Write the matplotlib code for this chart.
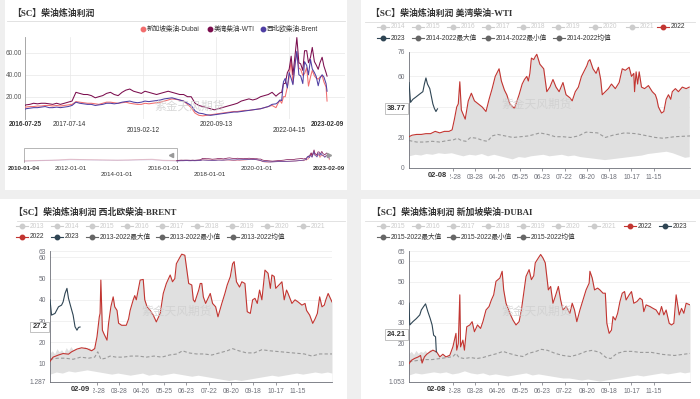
import numpy as np
import pandas as pd
import matplotlib
matplotlib.use('Agg')
import matplotlib.pyplot as plt
from matplotlib.patches import Rectangle
from matplotlib.lines import Line2D

plt.rcParams['font.family'] = ['Liberation Sans', 'Noto Sans CJK SC', 'DejaVu Sans']
TITLE_FONT = ['Liberation Serif', 'Noto Sans CJK SC', 'DejaVu Sans']

# ---------------- top-left: diesel crack, three regions ----------------
# dates: 2016-07-25, monthly to 2021-12, half-monthly 2022-01..2023-02, 2023-02-09
tl_dates = (pd.to_datetime(['2016-07-25'])
            .append(pd.date_range('2016-08-01', '2021-12-01', freq='MS'))
            .append(pd.date_range('2022-01-01', '2023-02-01', freq='SMS'))
            .append(pd.to_datetime(['2023-02-09'])))

wti_tl = [12, 12.5, 13, 14, 13.5, 14,
          14, 13.5, 13, 14, 13, 14, 15, 16, 24, 23, 22, 22,
          21, 19, 20, 21, 23, 24, 22, 21, 24, 26, 27, 25,
          24, 23, 25, 24, 23, 22, 23, 24, 25, 24, 23, 22,
          22, 20, 20, 14, 12, 11, 10, 9, 8, 9, 10, 11,
          12, 13, 14, 16, 17, 18, 17, 18, 20, 21, 22, 24,
          20.5, 22, 23.5, 24, 32, 32, 42, 45, 57, 40, 58, 74,
          51, 50, 44, 62, 62, 51, 56, 65, 52, 49, 45, 51,
          56, 48, 42, 38.8]
brent_tl = [8.5, 9, 9.5, 10, 10, 10.5,
            11, 10, 10, 10.5, 10, 10.5, 11, 12, 15, 14, 13.5, 13,
            13, 12, 12.5, 13, 14, 14, 13.5, 14, 15, 15.5, 16, 15,
            14.5, 15, 16, 15.5, 16, 16.5, 17, 18, 18.5, 19, 18, 17,
            16, 14, 12, 7, 5, 4.5, 3.5, 3, 3.5, 4, 4.5, 5,
            5.5, 6, 6, 6.5, 7, 7.5, 8, 8.5, 9, 10, 11, 13,
            13.5, 14.7, 17, 16.5, 33.6, 36.7, 28, 42, 36.7, 31, 50, 61.5,
            40, 39, 32, 52, 48.5, 40, 54, 45.4, 42, 38.5, 30, 37,
            40, 38, 32, 25]
dubai_tl = [10, 10.5, 11, 11, 11.5, 11.5,
            12, 12, 11.5, 12, 11.5, 12, 12.5, 13, 15.5, 15, 14.5, 14,
            14, 13.5, 13, 14, 15, 15, 14.5, 14, 14.5, 15, 14, 13.5,
            13, 13, 14, 13.5, 14, 14.5, 15, 16, 17, 18, 17.5, 17,
            16, 13, 10, 5, 3, 2.5, 3, 3.5, 4, 4.5, 5, 5.5,
            6, 6.5, 6.5, 7, 7.5, 7.5, 8, 8.5, 9, 10, 11, 12,
            10, 13.5, 16.6, 14, 20, 20, 28.9, 37.9, 53, 32, 50, 60,
            46, 45, 39.5, 41, 46.5, 29.7, 38, 44, 39, 37, 36, 38,
            39.5, 33.5, 28.9, 16]

# navigator history before the main window
nav_dates = pd.to_datetime(['2010-01-04', '2010-07-01', '2011-01-01', '2011-07-01',
                            '2012-01-01', '2012-07-01', '2013-01-01', '2013-07-01',
                            '2014-01-01', '2014-07-01', '2015-01-01', '2015-07-01',
                            '2016-01-01', '2016-07-25'])
wti_early = [10, 12, 14, 16, 20, 18, 17, 16, 15, 16, 18, 20, 14, 12]
brent_early = [7, 9, 11, 12, 15, 14, 13, 12, 11, 12, 14, 15, 10, 8.5]
dubai_early = [8, 10, 12, 14, 17, 16, 15, 14, 13, 14, 16, 17, 12, 10]

# ---------------- seasonal panels: (day of year, value) ----------------
wti_2022 = [(0, 20.5), (4, 21.5), (10, 22), (16, 22), (22, 22.5), (28, 22.5), (34, 24), (40, 23),
            (46, 24), (52, 24), (56, 25), (59, 32), (62, 40), (64, 42), (66, 56.5), (68, 38),
            (73, 32), (77, 44), (81, 49), (85, 44), (90, 42), (95, 40), (100, 37), (104, 45),
            (108, 52), (110, 56), (112, 60), (117, 65), (120, 57), (124, 51), (127, 48), (131, 42),
            (137, 39), (141, 45), (143, 48), (147, 55), (150, 58), (153, 60), (155, 57), (157, 62),
            (159, 72), (162, 71), (164, 73), (166, 74.5), (170, 68), (175, 65), (179, 50), (183, 53),
            (187, 58), (191, 53), (195, 50), (200, 56), (204, 48), (209, 46), (212, 44), (216, 50),
            (220, 53), (224, 60), (228, 64), (231, 67), (233, 70), (235, 71), (239, 65), (243, 62),
            (246, 66), (249, 58), (251, 48), (255, 50), (259, 52), (263, 55), (268, 52), (273, 56),
            (277, 65), (281, 64), (286, 66), (289, 60), (292, 62), (293, 50), (295, 63), (297, 55),
            (299, 63), (302, 53), (306, 52), (311, 54), (316, 50), (320, 48), (322, 45), (324, 40),
            (328, 36), (331, 37), (334, 45), (337, 48), (340, 45), (342, 50), (346, 52), (350, 50),
            (355, 53), (360, 52), (364, 53)]
wti_2023 = [(0, 56), (2, 43), (5, 45), (9, 46.5), (14, 48.5), (18, 50), (20, 55), (22, 59),
            (24, 55), (27, 52), (29, 47), (31, 42), (33, 39), (35, 37), (37, 38.77)]
wti_min = [(0, 8), (8, 9), (15, 8.5), (22, 9.5), (30, 9), (38, 10), (46, 9.5), (55, 10), (62, 9),
           (70, 8), (78, 9), (86, 8.5), (94, 9.5), (102, 8), (110, 9), (118, 8), (126, 7), (134, 6),
           (142, 7.5), (150, 7), (158, 8), (166, 8.5), (174, 9), (182, 8), (190, 8.5), (198, 9),
           (206, 8), (214, 8.5), (222, 7.5), (230, 7), (238, 6.5), (246, 6), (254, 5.5), (262, 6),
           (270, 6.5), (278, 7), (286, 7.5), (294, 8), (302, 8.5), (310, 9.5), (318, 10), (326, 10.5),
           (334, 11), (342, 10), (350, 8.5), (358, 7), (365, 7.5)]
wti_avg = [(0, 18), (10, 17), (20, 17), (30, 17.5), (40, 17), (50, 18), (58, 18.5), (63, 19.5),
           (68, 18), (74, 17.5), (80, 20), (88, 19.5), (96, 18), (102, 17.5), (108, 21), (115, 22),
           (125, 21), (135, 20), (145, 20.5), (155, 21), (163, 22), (170, 23), (180, 22), (190, 20.5),
           (200, 20.5), (210, 20), (220, 21), (230, 23.5), (245, 23), (255, 20), (265, 21.5),
           (280, 23), (295, 22.5), (310, 21), (320, 20), (330, 19.5), (345, 20.5), (365, 21)]

brent_2022 = [(0, 11), (4, 13), (11, 14), (17, 14.7), (24, 14.4), (28, 15.5), (35, 16.8), (41, 17.4),
              (48, 17), (54, 16), (58, 17), (61, 22.6), (64, 32), (65, 33.6), (66, 49.3), (68, 25.7),
              (70, 24), (74, 21), (76, 28.9), (79, 36.7), (82, 41.4), (84, 36.7), (87, 35), (89, 29),
              (93, 28), (99, 28), (102, 31), (104, 35), (108, 40), (110, 42), (112, 40), (117, 49.3),
              (121, 49.6), (123, 40), (126, 36.7), (130, 35), (134, 32.8), (138, 29.6), (143, 33.6),
              (147, 43), (151, 47.7), (156, 51.7), (159, 48.5), (162, 50), (164, 57), (169, 60.3),
              (171, 61.5), (175, 61), (180, 47.7), (184, 47), (186, 40), (188, 39), (193, 44.6),
              (195, 47.7), (197, 47.7), (199, 41.4), (202, 38.3), (208, 43), (211, 38.3), (215, 36.7),
              (218, 32), (223, 38.3), (227, 43), (230, 47), (234, 50.9), (237, 57), (239, 58),
              (242, 48.5), (246, 46), (249, 48.5), (253, 47.7), (256, 34.4), (260, 33.6), (263, 40),
              (266, 40.7), (269, 38.3), (272, 44.6), (275, 40), (279, 54), (283, 52.5), (286, 45.4),
              (288, 51.7), (291, 51), (293, 45.4), (299, 47.7), (301, 48.5), (304, 40), (307, 44.6),
              (309, 43), (314, 38.3), (318, 40), (322, 39), (327, 37.5), (331, 38.3), (333, 35),
              (337, 32.8), (341, 28.9), (344, 31), (347, 33.6), (350, 41.4), (353, 36.7), (356, 37.5),
              (358, 40), (361, 43), (366, 39)]
brent_2023 = [(0, 40), (2, 32.8), (6.5, 33.6), (11, 36.7), (15, 37.5), (17, 39), (19.5, 43),
              (22, 45.4), (24, 40.7), (27, 36.7), (30, 32.8), (32.5, 27.3), (35, 25.7), (37, 27),
              (39, 27.2)]
brent_max = [(0, 15), (3, 16), (6, 14.5), (9, 17), (12, 15.5), (15, 16.5), (18, 15), (21, 17.5),
             (24, 16), (27, 18), (30, 16.5), (33, 17), (36, 15.5), (39, 17.5), (42, 16.5), (45, 18),
             (48, 17), (51, 17.5), (54, 16.5), (57, 17.5), (60, 18)]
brent_min = [(0, 5), (8, 6), (16, 5.5), (24, 6.5), (32, 6), (40, 6.5), (48, 7), (56, 6.5), (64, 6),
             (72, 5.5), (80, 5), (88, 5.5), (96, 5), (104, 4.5), (112, 5), (120, 5.5), (128, 4.5),
             (136, 5), (144, 4.5), (152, 5), (160, 5.5), (168, 5), (176, 4.5), (184, 4), (192, 4.5),
             (200, 4), (208, 3.5), (216, 3), (224, 2.5), (232, 2), (240, 2.5), (248, 2), (256, 2.5),
             (264, 3), (272, 3.5), (280, 4), (288, 4.5), (296, 4), (304, 4.5), (312, 5), (320, 5.5),
             (328, 5), (336, 5.5), (344, 6), (352, 5.5), (360, 6), (366, 5.5)]
brent_avg = [(0, 12), (10, 12.5), (20, 12.5), (30, 12), (40, 13), (50, 12.5), (58, 13), (62, 15.5),
             (66, 12), (72, 12.5), (78, 13.5), (86, 13), (95, 13), (105, 13.5), (115, 13.5),
             (125, 13), (135, 13.5), (145, 13), (155, 14), (165, 14.5), (172, 16), (180, 15),
             (190, 14.5), (200, 14.5), (210, 14), (220, 15), (230, 16), (237, 17), (245, 16),
             (255, 15), (265, 15), (275, 16.5), (285, 16), (300, 15.5), (315, 15), (330, 14.5),
             (340, 13.5), (350, 14.5), (366, 14.5)]

dubai_2022 = [(0, 10), (3, 11.6), (7, 12.5), (12, 13.3), (15, 14), (17, 10.3), (20, 13.3), (23, 14.6),
              (27, 15.7), (31, 16.6), (36, 15.7), (40, 13.3), (44, 14.6), (48, 13.3), (53, 14.1),
              (57, 18.2), (61, 24.8), (62, 16.6), (64, 19.8), (66, 43.6), (67, 18.2), (70, 21.5),
              (72, 16.6), (75, 28), (79, 28.9), (82, 30.5), (85, 25.6), (89, 28.9), (93, 27.2),
              (96, 30.5), (100, 36.2), (104, 37.9), (107, 41.1), (110, 43.6), (113, 50.2), (118, 51.8),
              (121, 55.1), (123, 46), (126, 39.5), (131, 34.6), (135, 31.3), (139, 28.9), (143, 30.5),
              (146, 36.2), (149, 44.4), (152, 52.6), (156, 55.9), (159, 51), (162, 52.9), (164, 59.2),
              (168, 61.6), (171, 63.3), (174, 61.6), (177, 59.2), (181, 46), (184, 47.7), (187, 39.5),
              (190, 42.8), (194, 47.7), (197, 41.1), (200, 36.2), (204, 37.9), (209, 34.6), (212, 39.5),
              (215, 36.2), (218, 30.5), (222, 36.2), (226, 41.1), (230, 46), (234, 49.3), (235, 55.1),
              (238, 51.8), (241, 46), (245, 46.9), (248, 46), (252, 44.4), (255, 44.4), (257, 29.7),
              (260, 24.8), (263, 26.4), (265, 33), (268, 31.3), (271, 34.6), (274, 40.3), (277, 44.4),
              (280, 45.2), (282, 41.1), (286, 43.6), (289, 45.2), (292, 39.5), (296, 40.3), (300, 42),
              (303, 41.1), (305, 35.4), (308, 38.7), (313, 37.9), (317, 37), (321, 36.2), (325, 33.8),
              (328, 37.9), (331, 33.8), (334, 36.2), (338, 29.7), (341, 28.9), (344, 29.7), (347, 43.6),
              (351, 33.8), (354, 37), (357, 34.6), (360, 39.5), (365, 38.7)]
dubai_2023 = [(0, 39.5), (1, 28.9), (5, 30.5), (9.5, 32), (14, 33.8), (16, 36.2), (19, 37.9),
              (21.5, 39.2), (24.5, 35.4), (27.5, 32.1), (30, 28.9), (32, 23.9), (34.5, 23.1), (35.5, 15.7)]
dubai_max = [(0, 15), (3, 16), (6, 14.5), (9, 16.5), (12, 15), (15, 16), (18, 15.5), (21, 16.5),
             (24, 15), (27, 17), (30, 16), (33, 16.5), (36, 15), (39, 14.5)]
dubai_min = [(0, 4.5), (8, 5.5), (16, 5), (24, 5.5), (32, 6), (40, 5.5), (48, 6), (56, 5), (64, 5.5),
             (72, 6.5), (80, 5.5), (88, 5), (96, 5.5), (104, 4.5), (112, 5), (120, 4.5), (128, 4),
             (136, 4.5), (144, 5), (152, 5.5), (160, 4.5), (168, 5), (176, 4.5), (184, 4), (192, 3.5),
             (200, 3), (208, 3), (216, 2.5), (224, 2), (232, 2.5), (240, 2), (248, 1.5), (256, 2),
             (264, 2.5), (272, 3), (280, 3.5), (288, 4), (296, 4.5), (304, 4), (312, 4.5), (320, 5),
             (328, 5.5), (336, 5), (344, 5.5), (352, 6), (358, 5.5), (365, 6)]
dubai_avg = [(0, 11), (10, 11.5), (20, 12), (30, 12), (40, 12.5), (50, 13), (57, 13.5), (61, 15),
             (65, 13), (72, 12.5), (80, 13), (88, 12.5), (96, 13), (105, 14), (115, 15), (122, 16),
             (130, 15), (140, 14), (148, 13.5), (155, 15), (165, 16), (172, 17), (180, 16.5),
             (190, 15), (200, 14), (210, 13.5), (220, 14.5), (230, 16), (238, 16.5), (248, 15.5),
             (256, 13), (262, 12.5), (270, 15), (280, 16), (290, 16), (300, 15.5), (315, 15.5),
             (330, 14.5), (345, 14), (365, 15)]

month_labels = ['02-28', '03-28', '04-26', '05-25', '06-23', '07-22', '08-20', '09-18', '10-17', '11-15']

RED = '#c23531'
DARK = '#2f4554'
GRAY = '#e0e0e0'
AXC = '#6e7079'

W, H = 700, 399
fig = plt.figure(figsize=(7, 3.99), dpi=100)
fig.patch.set_facecolor('#efefef')


def fx(x):
    return x / W


def fy(y):
    return 1 - y / H


def px_axes(l, t, r, b):
    ax = fig.add_axes([fx(l), fy(b), (r - l) / W, (b - t) / H])
    ax.patch.set_alpha(0)
    return ax


# white panels
for (l, t, r, b) in [(5, 0, 347, 190), (361, 0, 700, 190), (0, 199, 347, 399), (361, 199, 700, 399)]:
    fig.add_artist(Rectangle((fx(l), fy(b)), (r - l) / W, (b - t) / H, transform=fig.transFigure,
                             facecolor='white', edgecolor='none', zorder=-10))


def header(x, y, text, l, r, ly):
    fig.text(fx(x), fy(y), text, fontsize=6.4, fontweight='bold', color='#333', va='center',
             ha='left', family=TITLE_FONT)
    fig.add_artist(Line2D([fx(l), fx(r)], [fy(ly), fy(ly)], color='#dddddd', lw=0.6))


def leg_item(x, y, label, color, text_color, line=True):
    if line:
        fig.add_artist(Line2D([fx(x - 6), fx(x + 6)], [fy(y), fy(y)], color=color, lw=0.8))
    fig.add_artist(Line2D([fx(x)], [fy(y)], marker='o', ms=3.2, color=color, mec=color, mfc=color))
    fig.text(fx(x + (8 if line else 4)), fy(y), label, fontsize=4.8, color=text_color,
             va='center', ha='left')


def watermark(x, y):
    fig.text(fx(x), fy(y), '紫金天风期货', fontsize=8.5, color='#cfcfcf', alpha=0.8,
             ha='center', va='center', zorder=5)


# ---------------- top-left panel ----------------
header(12, 13, '【SC】柴油炼油利润', 7, 345, 21)
leg_item(143, 29, '新加坡柴油-Dubai', '#f26d6d', '#333', line=False)
leg_item(210, 29, '美湾柴油-WTI', '#7b0d4e', '#333', line=False)
leg_item(263, 29, '西北欧柴油-Brent', '#4f3fa3', '#333', line=False)

ax = px_axes(25, 36.7, 345, 118.6)
ax.set_xlim(pd.Timestamp('2016-07-25'), pd.Timestamp('2023-07-01'))
ax.set_ylim(0, 74.8)
ax.set_yticks([20, 40, 60])
ax.set_yticklabels(['20.00', '40.00', '60.00'])
ax.yaxis.grid(True, color='#e8e8e8', lw=0.5)
ax.set_axisbelow(True)
grid_dates = ['2017-07-14', '2019-02-12', '2020-09-13', '2022-04-15']
for d in grid_dates:
    ax.axvline(pd.Timestamp(d), color='#e8e8e8', lw=0.5, zorder=0)
ax.set_xticks([])
ax.tick_params(axis='y', length=0, labelsize=4.7, labelcolor='#555', pad=2)
for s in ['top', 'right', 'bottom']:
    ax.spines[s].set_visible(False)
ax.spines['left'].set_color('#999')
ax.spines['left'].set_linewidth(0.6)
ax.plot(tl_dates, dubai_tl, color='#f26d6d', lw=0.75, zorder=3)
ax.plot(tl_dates, wti_tl, color='#7b0d4e', lw=0.75, zorder=3)
ax.plot(tl_dates, brent_tl, color='#4f3fa3', lw=0.75, zorder=3)
xt = ax.get_xaxis_transform()
tl_ticks = [('2016-07-25', -0.068, True), ('2017-07-14', -0.068, False), ('2019-02-12', -0.15, False),
            ('2020-09-13', -0.068, False), ('2022-04-15', -0.15, False), ('2023-02-09', -0.068, True)]
for d, yy, bold in tl_ticks:
    ax.text(pd.Timestamp(d), yy, d, transform=xt, ha='center', va='center', fontsize=4.7,
            color='#333', fontweight='bold' if bold else 'normal', clip_on=False)
watermark(190, 107)

# navigator
nav = px_axes(24, 148, 330, 163)
nav.set_xlim(pd.Timestamp('2010-01-04'), pd.Timestamp('2023-02-20'))
nav.set_ylim(-3, 85)
nav.axis('off')
nav.plot(nav_dates, dubai_early, color='#f26d6d', lw=0.5, alpha=0.3)
nav.plot(nav_dates, wti_early, color='#7b0d4e', lw=0.5, alpha=0.2)
nav.plot(nav_dates, brent_early, color='#4f3fa3', lw=0.5, alpha=0.2)
nav.plot(tl_dates, dubai_tl, color='#f26d6d', lw=0.5)
nav.plot(tl_dates, wti_tl, color='#7b0d4e', lw=0.5)
nav.plot(tl_dates, brent_tl, color='#4f3fa3', lw=0.5)
nav.axvspan(pd.Timestamp('2010-01-04'), pd.Timestamp('2016-07-25'), fill=False, ec='#aaaaaa', lw=0.6)
nav.plot([pd.Timestamp('2016-05-01')], [42], marker='<', ms=3, color='#999', clip_on=False)
nav.plot([pd.Timestamp('2023-02-09')], [42], marker='>', ms=3, color='#999', clip_on=False)
nt = nav.get_xaxis_transform()
nav_ticks = [('2010-01-04', -0.35, True), ('2012-01-01', -0.35, False), ('2014-01-01', -0.75, False),
             ('2016-01-01', -0.35, False), ('2018-01-01', -0.75, False), ('2020-01-01', -0.35, False),
             ('2023-02-09', -0.35, True)]
for d, yy, bold in nav_ticks:
    nav.text(pd.Timestamp(d), yy, d, transform=nt, ha='center', va='center', fontsize=4.5,
             color='#333', fontweight='bold' if bold else 'normal', clip_on=False)


# ---------------- seasonal panels ----------------
def seasonal(box, xlim, ylim, yticks, ylabels, xticks, s22, s23, smin, savg, smax,
             last_txt, last_val, date_txt):
    l, t, r, b = box
    ax = px_axes(l, t, r, b)
    ax.set_xlim(*xlim)
    ax.set_ylim(*ylim)
    d, v = zip(*s22)
    ax.fill_between(d, ylim[0], v, color=GRAY, lw=0, zorder=1)
    if smax:
        dm, vm = zip(*smax)
        ax.fill_between(dm, ylim[0], vm, color=GRAY, lw=0, zorder=1)
    dn, vn = zip(*smin)
    ax.fill_between(dn, ylim[0], vn, color='white', lw=0, zorder=1.5)
    da, va = zip(*savg)
    ax.plot(da, va, color='#9a9a9a', lw=0.8, ls=(0, (3, 2)), zorder=2)
    ax.plot(d, v, color=RED, lw=0.8, zorder=3)
    d3, v3 = zip(*s23)
    ax.plot(d3, v3, color=DARK, lw=0.8, zorder=3)

    ax.set_yticks(yticks)
    ax.set_yticklabels(ylabels)
    ax.yaxis.grid(True, color='#ebebeb', lw=0.5)
    ax.set_axisbelow(True)
    ax.set_xticks(xticks)
    ax.set_xticklabels(month_labels)
    ax.tick_params(axis='y', length=0, labelsize=4.8, labelcolor=AXC, pad=3)
    ax.tick_params(axis='x', length=2, width=0.5, color=AXC, labelsize=4.8, labelcolor=AXC, pad=2)
    for s in ['top', 'right']:
        ax.spines[s].set_visible(False)
    for s in ['left', 'bottom']:
        ax.spines[s].set_color(AXC)
        ax.spines[s].set_linewidth(0.6)

    ax.annotate(last_txt, xy=(0, last_val), xycoords=('axes fraction', 'data'),
                xytext=(-2, 0), textcoords='offset points', ha='right', va='center',
                fontsize=5.4, fontweight='bold', color='#333', zorder=10, annotation_clip=False,
                bbox=dict(boxstyle='square,pad=0.25', fc='white', ec='#aaaaaa', lw=0.5))
    ax.annotate(date_txt, xy=(d3[-1], 0), xycoords=('data', 'axes fraction'),
                xytext=(0, -3), textcoords='offset points', ha='center', va='top',
                fontsize=5.4, fontweight='bold', color='#333', zorder=10, annotation_clip=False,
                bbox=dict(boxstyle='square,pad=0.45', fc='white', ec='none'))
    return ax


# top-right: WTI
header(371, 13, '【SC】柴油炼油利润 美湾柴油-WTI', 365, 695, 22)
for x, yr in zip([383, 418, 453, 488, 523, 558, 595, 632], range(2014, 2022)):
    leg_item(x, 27, str(yr), '#cccccc', '#cccccc')
leg_item(663, 27, '2022', RED, '#333')
leg_item(383, 38, '2023', DARK, '#333')
leg_item(418, 38, '2014-2022最大值', '#666', '#333')
leg_item(488, 38, '2014-2022最小值', '#666', '#333')
leg_item(559, 38, '2014-2022均值', '#666', '#333')
# the 40 label sits under the 38.77 marker in the reference, so it is left blank
seasonal((409, 52, 690, 168), (0, 365), (0, 76), [0, 20, 40, 60, 76], ['0', '20', '', '60', '76'],
         [57 + 29 * k for k in range(10)], wti_2022, wti_2023, wti_min, wti_avg, None,
         '38.77', 38.77, '02-08')
watermark(537, 105)

# bottom-left: Brent
header(14, 212, '【SC】柴油炼油利润 西北欧柴油-BRENT', 17, 345, 221)
for x, yr in zip([22, 57, 92, 127, 162, 197, 232, 267, 303], range(2013, 2022)):
    leg_item(x, 226, str(yr), '#cccccc', '#cccccc')
leg_item(22, 237, '2022', RED, '#333')
leg_item(57, 237, '2023', DARK, '#333')
leg_item(92, 237, '2013-2022最大值', '#666', '#333')
leg_item(162, 237, '2013-2022最小值', '#666', '#333')
leg_item(233, 237, '2013-2022均值', '#666', '#333')
seasonal((50, 251, 332, 382), (0, 366), (1.287, 63), [1.287, 10, 20, 30, 40, 50, 60, 63],
         ['1.287', '10', '20', '30', '40', '50', '60', '63'],
         [61 + 29 * k for k in range(10)], brent_2022, brent_2023, brent_min, brent_avg, brent_max,
         '27.2', 27.2, '02-09')
watermark(177, 312)

# bottom-right: Dubai
header(372, 212, '【SC】柴油炼油利润 新加坡柴油-DUBAI', 365, 695, 221)
for x, yr in zip([383, 418, 453, 488, 523, 558, 594], range(2015, 2022)):
    leg_item(x, 226, str(yr), '#cccccc', '#cccccc')
leg_item(630, 226, '2022', RED, '#333')
leg_item(665, 226, '2023', DARK, '#333')
leg_item(383, 237, '2015-2022最大值', '#666', '#333')
leg_item(453, 237, '2015-2022最小值', '#666', '#333')
leg_item(523, 237, '2015-2022均值', '#666', '#333')
seasonal((409, 251, 690, 382), (0, 365), (1.053, 65), [1.053, 10, 20, 30, 40, 50, 60, 65],
         ['1.053', '10', '20', '30', '40', '50', '60', '65'],
         [57 + 29 * k for k in range(10)], dubai_2022, dubai_2023, dubai_min, dubai_avg, dubai_max,
         '24.21', 24.21, '02-08')
watermark(537, 312)

fig.savefig('out.png', dpi=100, facecolor=fig.get_facecolor())
